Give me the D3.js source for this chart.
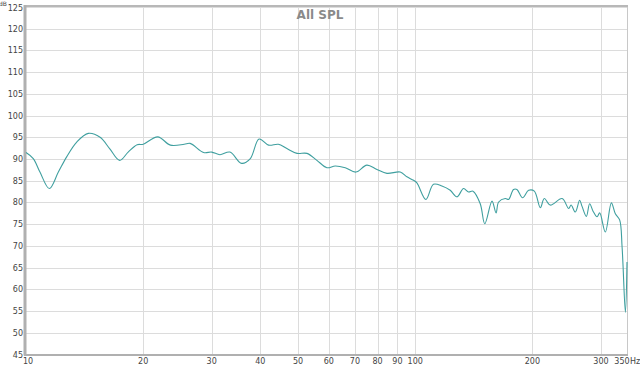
<!DOCTYPE html>
<html>
<head>
<meta charset="utf-8">
<script src="https://cdn.jsdelivr.net/npm/d3@7"></script>
<style>
  body { margin: 0; background: #fff; }
  svg { display: block; font-family: "DejaVu Sans", sans-serif; }
  .grid line { stroke: #dcdcdc; stroke-width: 1; }
  .tick-label { fill: #444; font-size: 8px; }
</style>
</head>
<body>
<svg width="640" height="366"></svg>
<script>
// data: frequency (Hz) and level (dB)
const freqs = [10, 10.44, 10.86, 11.48, 12.11, 12.72, 13.5, 14.46, 15.5, 16.4, 17.4, 18.3, 19.3, 20,
  21.8, 23.5, 25.5, 26.4, 28.6, 30, 31.5, 33.4, 35.8, 37.7, 39.7, 42, 44.5, 46.8, 49.7, 52.7, 55.9,
  59.3, 62.3, 66.1, 70.4, 75.1, 79.7, 84.6, 91.5, 95.2, 99, 101, 106.5, 111.4, 117.1, 123, 128, 133.1,
  137.1, 140.7, 146.9, 150.9, 157.5, 161.3, 163.8, 170.3, 173.7, 178.9, 182.5, 188.7, 195.6, 202.3,
  209.6, 214.6, 222.3, 238.4, 247.9, 251.4, 257.8, 264.5, 268.3, 275.2, 280.6, 286.3, 293.2, 297.8,
  307.9, 319.1, 326.7, 335.1, 340, 346.7, 350];
const levels = [91.5, 90.1, 87.0, 83.2, 87.0, 90.5, 93.9, 95.9, 95.0, 92.4, 89.7, 91.6, 93.3, 93.4,
  95.1, 93.2, 93.4, 93.6, 91.5, 91.6, 91.0, 91.6, 89.0, 90.1, 94.6, 93.2, 93.4, 92.4, 91.3, 91.3, 89.7,
  88.0, 88.4, 88.0, 87.0, 88.6, 87.6, 86.7, 87.0, 85.9, 85.1, 84.5, 80.7, 84.2, 83.8, 82.8, 81.3, 83.2,
  82.4, 82.6, 79.7, 75.1, 80.3, 77.6, 80.1, 80.9, 80.7, 83.0, 83.0, 81.1, 82.8, 82.6,
  78.8, 80.9, 79.4, 80.9, 78.6, 79.4, 77.8, 80.5, 79.1, 76.8, 79.7, 78.0, 76.7, 77.6,
  73.2, 79.9, 77.4, 76.0, 69.7, 54.7, 66.3];

const xTicks = [10, 20, 30, 40, 50, 60, 70, 80, 90, 100, 200, 300, 350];
const yTicks = [45, 50, 55, 60, 65, 70, 75, 80, 85, 90, 95, 100, 105, 110, 115, 120, 125];

const svg = d3.select('svg');
const padL = 26, padR = 627, padT = 7, padB = 354.5;

const x = d3.scaleLog().domain([10, 350]).range([padL, padR]);
const y = d3.scaleLinear().domain([45, 125]).range([padB, padT]);

// grid
const grid = svg.append('g').attr('class', 'grid');
grid.selectAll('.h').data(yTicks).enter().append('line')
    .attr('x1', padL).attr('x2', padR)
    .attr('y1', d => Math.round(y(d)) + 0.5).attr('y2', d => Math.round(y(d)) + 0.5);
grid.selectAll('.v').data(xTicks.slice(1, -1)).enter().append('line')
    .attr('x1', d => Math.round(x(d)) + 0.5).attr('x2', d => Math.round(x(d)) + 0.5)
    .attr('y1', padT).attr('y2', padB);

// frame
svg.append('line').attr('x1', padR + 0.5).attr('x2', padR + 0.5).attr('y1', padT).attr('y2', padB)
    .attr('stroke', '#c8c8c8');
svg.append('line').attr('x1', padL - 1).attr('x2', padR + 1).attr('y1', padT - 1).attr('y2', padT - 1)
    .attr('stroke', '#b8b8b8').attr('stroke-width', 2);
svg.append('line').attr('x1', padL - 1).attr('x2', padL - 1).attr('y1', padT - 2).attr('y2', padB + 1)
    .attr('stroke', '#b0b0b0').attr('stroke-width', 3);
svg.append('line').attr('x1', padL - 2).attr('x2', padR + 1).attr('y1', padB + 0.5).attr('y2', padB + 0.5)
    .attr('stroke', '#b0b0b0').attr('stroke-width', 2);

// y labels
svg.selectAll('.ylab').data(yTicks).enter().append('text')
    .attr('class', 'tick-label')
    .attr('x', 23).attr('y', d => y(d) + 3 + (d === 125 ? 1 : 0))
    .attr('text-anchor', 'end')
    .text(d => d);
svg.append('text').attr('class', 'tick-label').attr('x', 7).attr('y', 6)
    .attr('text-anchor', 'end')
    .style('font-size', '6px').text('dB');

// x labels
svg.selectAll('.xlab').data(xTicks).enter().append('text')
    .attr('class', 'tick-label')
    .attr('x', d => d === 350 ? x(d) - 5 : x(d) + (d === 10 ? 2 : 0))
    .attr('y', 364)
    .attr('text-anchor', 'middle')
    .text(d => d);
svg.append('text').attr('class', 'tick-label').attr('x', 630).attr('y', 364).text('Hz');

// title
svg.append('text').attr('x', 320).attr('y', 19).attr('text-anchor', 'middle')
    .style('font-size', '12px').style('font-weight', 'bold').attr('fill', '#8a8a8a')
    .text('All SPL');

// curve
const pts = freqs.map((f, i) => [f, levels[i]]);
const line = d3.line().x(d => x(d[0])).y(d => y(d[1])).curve(d3.curveCatmullRom.alpha(0.5));
svg.append('path').attr('d', line(pts))
    .attr('fill', 'none').attr('stroke', '#3f9f9f').attr('stroke-width', 1.1);
</script>
</body>
</html>
